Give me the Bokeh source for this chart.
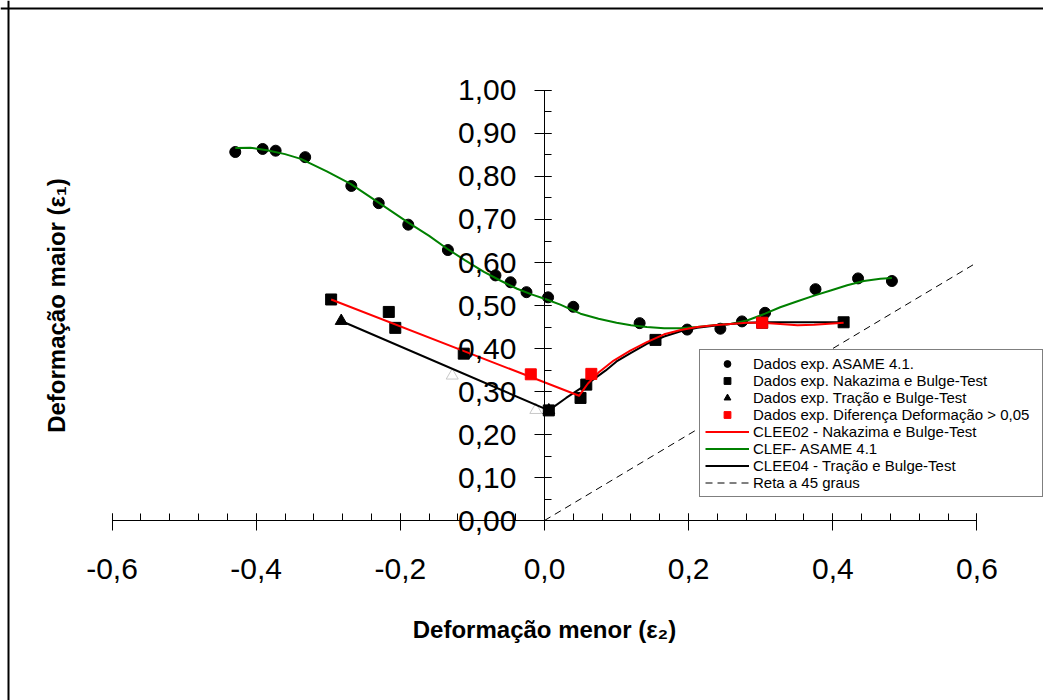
from bokeh.plotting import figure
from bokeh.models import (Range1d, FixedTicker, CustomJSTickFormatter, Legend,
                          LegendItem, Span, LinearAxis)
from bokeh.embed import file_html
from bokeh.resources import INLINE

# ---------------- data ----------------
asame_x = [-0.429, -0.391, -0.373, -0.332, -0.268, -0.230, -0.189, -0.134, -0.068,
           -0.047, -0.025, 0.005, 0.040, 0.132, 0.198, 0.244, 0.274, 0.306, 0.376,
           0.435, 0.482]
asame_y = [0.857, 0.864, 0.860, 0.845, 0.778, 0.738, 0.688, 0.629, 0.570,
           0.554, 0.531, 0.519, 0.497, 0.459, 0.444, 0.446, 0.463, 0.483, 0.538,
           0.563, 0.557]

naka_x = [-0.296, -0.216, -0.207, -0.112, 0.006, 0.050, 0.058, 0.154, 0.302, 0.415]
naka_y = [0.514, 0.485, 0.448, 0.388, 0.256, 0.285, 0.316, 0.420, 0.460, 0.461]

tracao_x = [-0.282, 0.006]
tracao_y = [0.464, 0.256]

dif_x = [-0.019, 0.065, 0.302]
dif_y = [0.340, 0.341, 0.460]

extra_x = [-0.128, -0.012]
extra_y = [0.337, 0.257]

clef_x = [-0.429, -0.408, -0.385, -0.360, -0.338, -0.302, -0.269, -0.228, -0.190,
          -0.160, -0.135, -0.110, -0.084, -0.060, -0.038, -0.018, 0.001, 0.022,
          0.035, 0.050, 0.075, 0.100, 0.120, 0.142, 0.166, 0.189, 0.212, 0.235,
          0.258, 0.281, 0.306, 0.327, 0.351, 0.374, 0.397, 0.420, 0.443, 0.466,
          0.482]
clef_y = [0.866, 0.867, 0.861, 0.852, 0.841, 0.812, 0.783, 0.737, 0.694,
          0.662, 0.632, 0.605, 0.578, 0.557, 0.539, 0.526, 0.515, 0.502,
          0.492, 0.481, 0.469, 0.460, 0.454, 0.450, 0.447, 0.447, 0.450, 0.454,
          0.457, 0.465, 0.481, 0.496, 0.510, 0.523, 0.535, 0.547, 0.557, 0.562,
          0.564]

clee02_x = [-0.296, 0.048, 0.060, 0.075, 0.096, 0.119, 0.142, 0.166, 0.189, 0.212,
            0.235, 0.258, 0.281, 0.302, 0.327, 0.351, 0.374, 0.415]
clee02_y = [0.514, 0.290, 0.318, 0.344, 0.372, 0.395, 0.415, 0.433, 0.443, 0.450,
            0.454, 0.457, 0.460, 0.460, 0.457, 0.454, 0.455, 0.460]

clee04_x = [-0.282, 0.006, 0.030, 0.058, 0.085, 0.100, 0.120, 0.142, 0.166, 0.189,
            0.212, 0.235, 0.258, 0.281, 0.302, 0.350, 0.415]
clee04_y = [0.464, 0.256, 0.285, 0.316, 0.349, 0.370, 0.390, 0.411, 0.428, 0.440,
            0.448, 0.453, 0.457, 0.460, 0.461, 0.461, 0.461]

reta_x = [0.0, 0.6]
reta_y = [0.0, 0.6]

x_ticks = [-0.6, -0.4, -0.2, 0.0, 0.2, 0.4, 0.6]
x_minor = [round(-0.6 + 0.04 * i, 2) for i in range(31)]
y_ticks = [round(0.1 * i, 1) for i in range(11)]
y_minor = [round(0.05 * i, 2) for i in range(21)]

# ---------------- figure ----------------
X0, X1 = -0.7547, 0.6923
Y0, Y1 = -0.4186, 1.2093
FRAME_LEFT, FRAME_TOP = -0.7436, 1.1907
FONT = "Liberation Sans"

p = figure(width=1043, height=700, output_backend="svg", toolbar_location=None,
           x_range=Range1d(X0, X1), y_range=Range1d(Y0, Y1), min_border=0,
           x_axis_location=None, y_axis_location=None)
p.outline_line_color = None
p.background_fill_color = "white"
p.border_fill_color = "white"
p.xgrid.grid_line_color = None
p.ygrid.grid_line_color = None

xaxis = LinearAxis(fixed_location=0, bounds=(-0.6, 0.6),
                   ticker=FixedTicker(ticks=x_ticks, minor_ticks=x_minor),
                   formatter=CustomJSTickFormatter(code="return tick.toFixed(1).replace('.', ',');"),
                   axis_label="Deformação menor (ε₂)")
yaxis = LinearAxis(fixed_location=0, bounds=(0, 1.0),
                   ticker=FixedTicker(ticks=y_ticks, minor_ticks=y_minor),
                   formatter=CustomJSTickFormatter(code="return tick.toFixed(2).replace('.', ',');"),
                   axis_label="Deformação maior (ε₁)")
for ax in (xaxis, yaxis):
    ax.axis_line_color = "black"
    ax.major_tick_line_color = "black"
    ax.minor_tick_line_color = "black"
    ax.major_tick_in = 7
    ax.major_tick_out = 10
    ax.minor_tick_in = 7
    ax.minor_tick_out = 0
    ax.major_label_text_font = FONT
    ax.major_label_text_font_size = "30px"
    ax.major_label_text_color = "black"
    ax.axis_label_text_font = FONT
    ax.axis_label_text_font_size = "24px"
    ax.axis_label_text_font_style = "bold"
    ax.axis_label_text_color = "black"
xaxis.major_label_standoff = 28
xaxis.axis_label_standoff = 34
yaxis.major_label_standoff = 18
yaxis.axis_label_standoff = 385
p.add_layout(xaxis, "below")
p.add_layout(yaxis, "left")

# frame lines (left and top only, as in the cropped reference)
p.add_layout(Span(location=FRAME_LEFT, dimension="height", line_color="black", line_width=2))
p.add_layout(Span(location=FRAME_TOP, dimension="width", line_color="black", line_width=2))

# ---------------- glyphs ----------------
r_reta = p.line(reta_x, reta_y, line_color="black", line_width=1, line_dash="7 5")
p.scatter(extra_x, extra_y, marker="triangle", size=12, fill_color="white",
          line_color="#c8c8c8")
r_naka = p.scatter(naka_x, naka_y, marker="square", size=11, color="black")
r_trac = p.scatter(tracao_x, tracao_y, marker="triangle", size=12, color="black")
r_asame = p.scatter(asame_x, asame_y, marker="circle", size=11, color="black")
r_clef = p.line(clef_x, clef_y, line_color="#008000", line_width=2)
r_c04 = p.line(clee04_x, clee04_y, line_color="black", line_width=2)
r_c02 = p.line(clee02_x, clee02_y, line_color="#ff0000", line_width=2)
r_dif = p.scatter(dif_x, dif_y, marker="square", size=11, color="#ff0000")

legend = Legend(items=[
    LegendItem(label="Dados exp. ASAME 4.1.", renderers=[r_asame]),
    LegendItem(label="Dados exp. Nakazima e Bulge-Test", renderers=[r_naka]),
    LegendItem(label="Dados exp. Tração e Bulge-Test", renderers=[r_trac]),
    LegendItem(label="Dados exp. Diferença Deformação > 0,05", renderers=[r_dif]),
    LegendItem(label="CLEE02 - Nakazima e Bulge-Test", renderers=[r_c02]),
    LegendItem(label="CLEF- ASAME 4.1", renderers=[r_clef]),
    LegendItem(label="CLEE04 - Tração e Bulge-Test", renderers=[r_c04]),
    LegendItem(label="Reta a 45 graus", renderers=[r_reta]),
])
legend.location = (699, 203)
legend.label_text_font = FONT
legend.label_text_font_size = "15px"
legend.label_text_color = "black"
legend.label_height = 17
legend.label_width = 284
legend.glyph_height = 17
legend.glyph_width = 44
legend.label_standoff = 4
legend.spacing = 0
legend.padding = 5
legend.margin = 0
legend.border_line_color = "black"
legend.border_line_width = 1
legend.background_fill_color = "white"
legend.background_fill_alpha = 1.0
p.add_layout(legend)

open("out.html", "w").write(file_html(p, INLINE))
